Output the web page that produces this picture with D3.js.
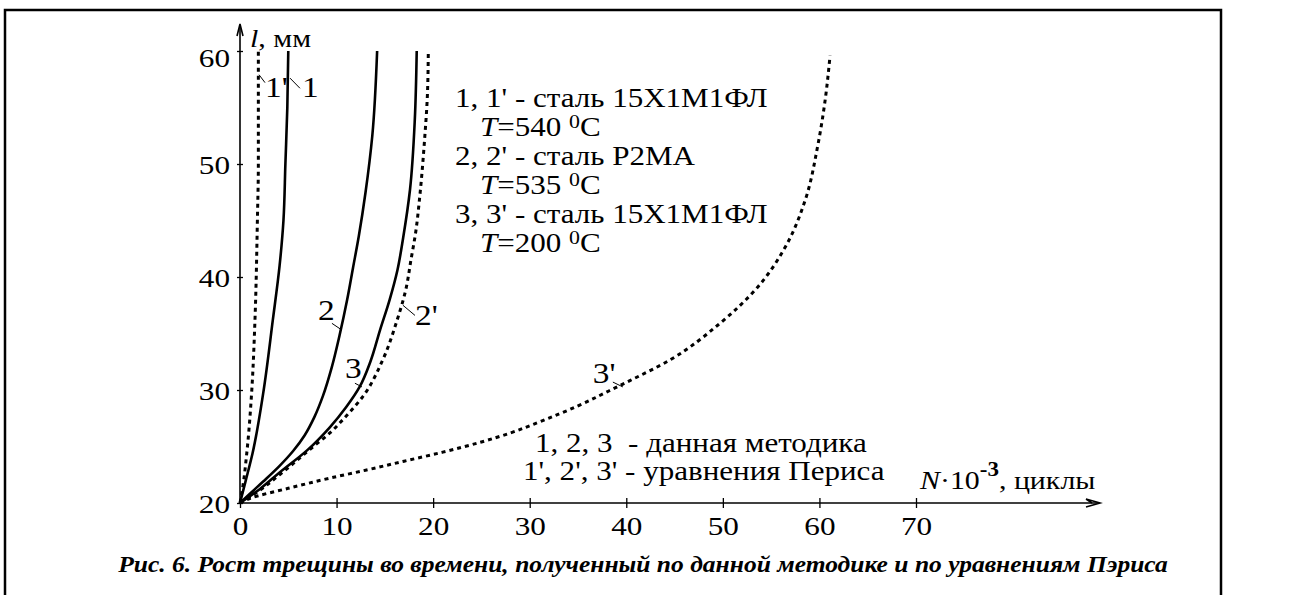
<!DOCTYPE html>
<html>
<head>
<meta charset="utf-8">
<script src="https://cdn.jsdelivr.net/npm/d3@7"></script>
<style>
  body { margin: 0; background: #fff; }
  svg { display: block; }
  svg text { font-family: "Times New Roman", "Liberation Serif", Times, serif; fill: #000; }
</style>
</head>
<body>
<svg id="chart" width="1290" height="595"></svg>
<script>
// crack length l (mm) vs N*10^-3 cycles
var curve1  = [[0,20],[0.6,22],[1.3,24.4],[2.4,29.7],[3.4,36.2],[4.1,41],[4.5,45],[4.7,50],[4.9,55],[5.0,60]];
var curve1p = [[0,20],[0.3,21.5],[0.7,24.4],[1.2,29.7],[1.55,36.2],[1.8,45],[1.9,50],[1.9,60]];
var curve2  = [[0,20],[1,20.8],[2.4,21.9],[4,23.2],[5.5,24.6],[6.7,26],[7.7,27.6],[8.6,29.5],[9.5,32],[10.3,34.8],[11.1,38],[11.7,40.8],[12.3,43.6],[13.0,47.5],[13.7,52.5],[14.2,60]];
var curve2p = [[0,20],[2,21.1],[4.1,22.5],[7.6,25],[9.3,26.2],[11,27.7],[12.7,29.4],[14.8,32.7],[16.2,36],[17.2,39],[17.7,41.5],[18.2,44],[18.6,47],[19.1,52],[19.4,56],[19.5,60]];
var curve3  = [[0,20],[2,21.2],[4.1,22.7],[7,24.7],[9.3,26.7],[11,28.5],[12.4,30.3],[13.5,32.5],[14.5,35.3],[15.5,38],[16.3,40.6],[16.9,43.5],[17.6,47.7],[18.1,53.9],[18.3,60]];
var curve3p = [[0,20],[1,20.4],[5,21.3],[9.3,22.2],[13,22.9],[17,23.7],[21,24.5],[25,25.4],[28,26.2],[30.8,27.1],[35,28.6],[39.1,30.3],[44.6,32.7],[49.7,35.9],[53.6,39.1],[56.3,42.4],[58.6,47],[59.8,51.5],[60.6,55.7],[61.1,59.6]];

var xTicks = [0,10,20,30,40,50,60,70];
var yTicks = [20,30,40,50,60];

// curve labels: text, position, leader line (data units)
var curveLabels = ["1'", "1", "2", "3", "2'", "3'"];
var labelPos    = [[2.59,55.9],[6.42,55.9],[8.07,36.2],[10.87,31.06],[18.12,35.75],[36.54,30.62]];
var leaders     = [[[1.97,57.9],[2.59,57.2]],[[5.18,57.6],[6.21,56.7]],[[9.52,35.9],[10.56,35.3]],
                   [[11.9,30.6],[12.63,30.27]],[[16.87,37.5],[18.12,36.6]],[[38.61,30.7],[39.65,30.27]]];

var svg = d3.select("#chart");
var SX = 1.15; // the original figure is stretched sideways
var FONT = '"Times New Roman", "Liberation Serif", serif';

var x = d3.scaleLinear().domain([0,70]).range([240, 916]);
var y = d3.scaleLinear().domain([20,60]).range([503, 51]);

function stext(px, py, size, sx) {
    return svg.append("text")
        .attr("transform", "translate(" + px + "," + py + ") scale(" + (sx || SX) + ",1)")
        .style("font-family", FONT)
        .style("font-size", size + "px");
}

// frame
svg.append("rect")
    .attr("x",5).attr("y",10).attr("width",1216).attr("height",620)
    .attr("fill","none").attr("stroke","#000").attr("stroke-width",2.5);

// axes
var gx = svg.append("g").attr("transform","translate(0," + y(20) + ")")
    .call(d3.axisBottom(x).tickValues(xTicks).tickSize(5).tickFormat(d3.format("d")));
gx.select(".domain").remove();
gx.selectAll(".tick line").attr("y1",-5).attr("stroke-width",1.3);
gx.selectAll(".tick text")
    .attr("y",0).attr("dy",0).attr("transform","translate(0,32) scale(1.2,1)")
    .style("font-size","26px").style("font-family",FONT);

var gy = svg.append("g").attr("transform","translate(" + x(0) + ",0)")
    .call(d3.axisLeft(y).tickValues(yTicks).tickSize(3).tickFormat(d3.format("d")));
gy.select(".domain").remove();
gy.selectAll(".tick line").attr("x2",3).attr("x1",-3).attr("stroke-width",1.3);
gy.selectAll(".tick text")
    .attr("x",0).attr("dy",0)
    .attr("transform",function(d){ return "translate(-10," + (d === 60 ? 15 : 9) + ") scale(1.2,1)"; })
    .style("font-size","26px").style("font-family",FONT);

svg.append("line").attr("x1",x(0)).attr("y1",y(20)).attr("x2",1098).attr("y2",y(20))
    .attr("stroke","#000").attr("stroke-width",1.6);
svg.append("path").attr("d","M1086," + (y(20)-4) + " L1100," + y(20) + " L1086," + (y(20)+4) + " M1092," + y(20) + " L1086," + (y(20)-4))
    .attr("fill","none").attr("stroke","#000").attr("stroke-width",1.6);
svg.append("line").attr("x1",x(0)).attr("y1",y(20)).attr("x2",x(0)).attr("y2",26)
    .attr("stroke","#000").attr("stroke-width",1.6);
svg.append("path").attr("d","M" + (x(0)-3) + ",36 L" + x(0) + ",24 L" + (x(0)+3) + ",36")
    .attr("fill","none").attr("stroke","#000").attr("stroke-width",1.6);

// axis titles
var yl = stext(250, 47, 26);
yl.append("tspan").style("font-style","italic").text("l");
yl.append("tspan").text(", мм");

var xl = stext(920, 489, 26);
xl.append("tspan").style("font-style","italic").text("N");
xl.append("tspan").text("·10");
xl.append("tspan").attr("dy",-13).style("font-size","20px").style("font-weight","bold").text("-3");
xl.append("tspan").attr("dy",13).text(", циклы");

// curves
var line = d3.line().x(function(d){return x(d[0]);}).y(function(d){return y(d[1]);})
    .curve(d3.curveMonotoneY);

var solid = [curve1, curve2, curve3];
var dotted = [curve1p, curve2p, curve3p];

svg.selectAll("path.solid").data(solid).enter().append("path")
    .attr("class","solid").attr("d",line)
    .attr("fill","none").attr("stroke","#000").attr("stroke-width",2.6);
svg.selectAll("path.dotted").data(dotted).enter().append("path")
    .attr("class","dotted").attr("d",line)
    .attr("fill","none").attr("stroke","#000").attr("stroke-width",3)
    .attr("stroke-dasharray","4,4");

// curve labels and leaders
svg.selectAll("line.leader").data(leaders).enter().append("line")
    .attr("class","leader")
    .attr("x1",function(d){return x(d[0][0]);}).attr("y1",function(d){return y(d[0][1]);})
    .attr("x2",function(d){return x(d[1][0]);}).attr("y2",function(d){return y(d[1][1]);})
    .attr("stroke","#000").attr("stroke-width",1);
curveLabels.forEach(function(t,i){
    stext(x(labelPos[i][0]), y(labelPos[i][1]), 29).text(t);
});

// legend (top)
function tLine(px, py, val) {
    var t = stext(px, py, 27);
    t.append("tspan").style("font-style","italic").text("T");
    t.append("tspan").text("=" + val + " ");
    t.append("tspan").attr("dy",-8).style("font-size","19px").text("0");
    t.append("tspan").attr("dy",8).text("C");
}
stext(455, 107, 27).text("1, 1' - сталь 15Х1М1ФЛ");
tLine(480, 136, "540");
stext(455, 165, 27).text("2, 2' - сталь Р2МА");
tLine(480, 194, "535");
stext(455, 223, 27).text("3, 3' - сталь 15Х1М1ФЛ");
tLine(480, 252, "200");

// legend (bottom)
stext(535, 452, 27).text("1, 2, 3  - данная методика").style("white-space","pre");
stext(523, 480, 27).text("1', 2', 3' - уравнения Периса");

// caption
stext(643, 572, 23, 1.11)
    .attr("text-anchor","middle")
    .style("font-weight","bold").style("font-style","italic")
    .text("Рис. 6. Рост трещины во времени, полученный по данной методике и по уравнениям Пэриса");
</script>
</body>
</html>
